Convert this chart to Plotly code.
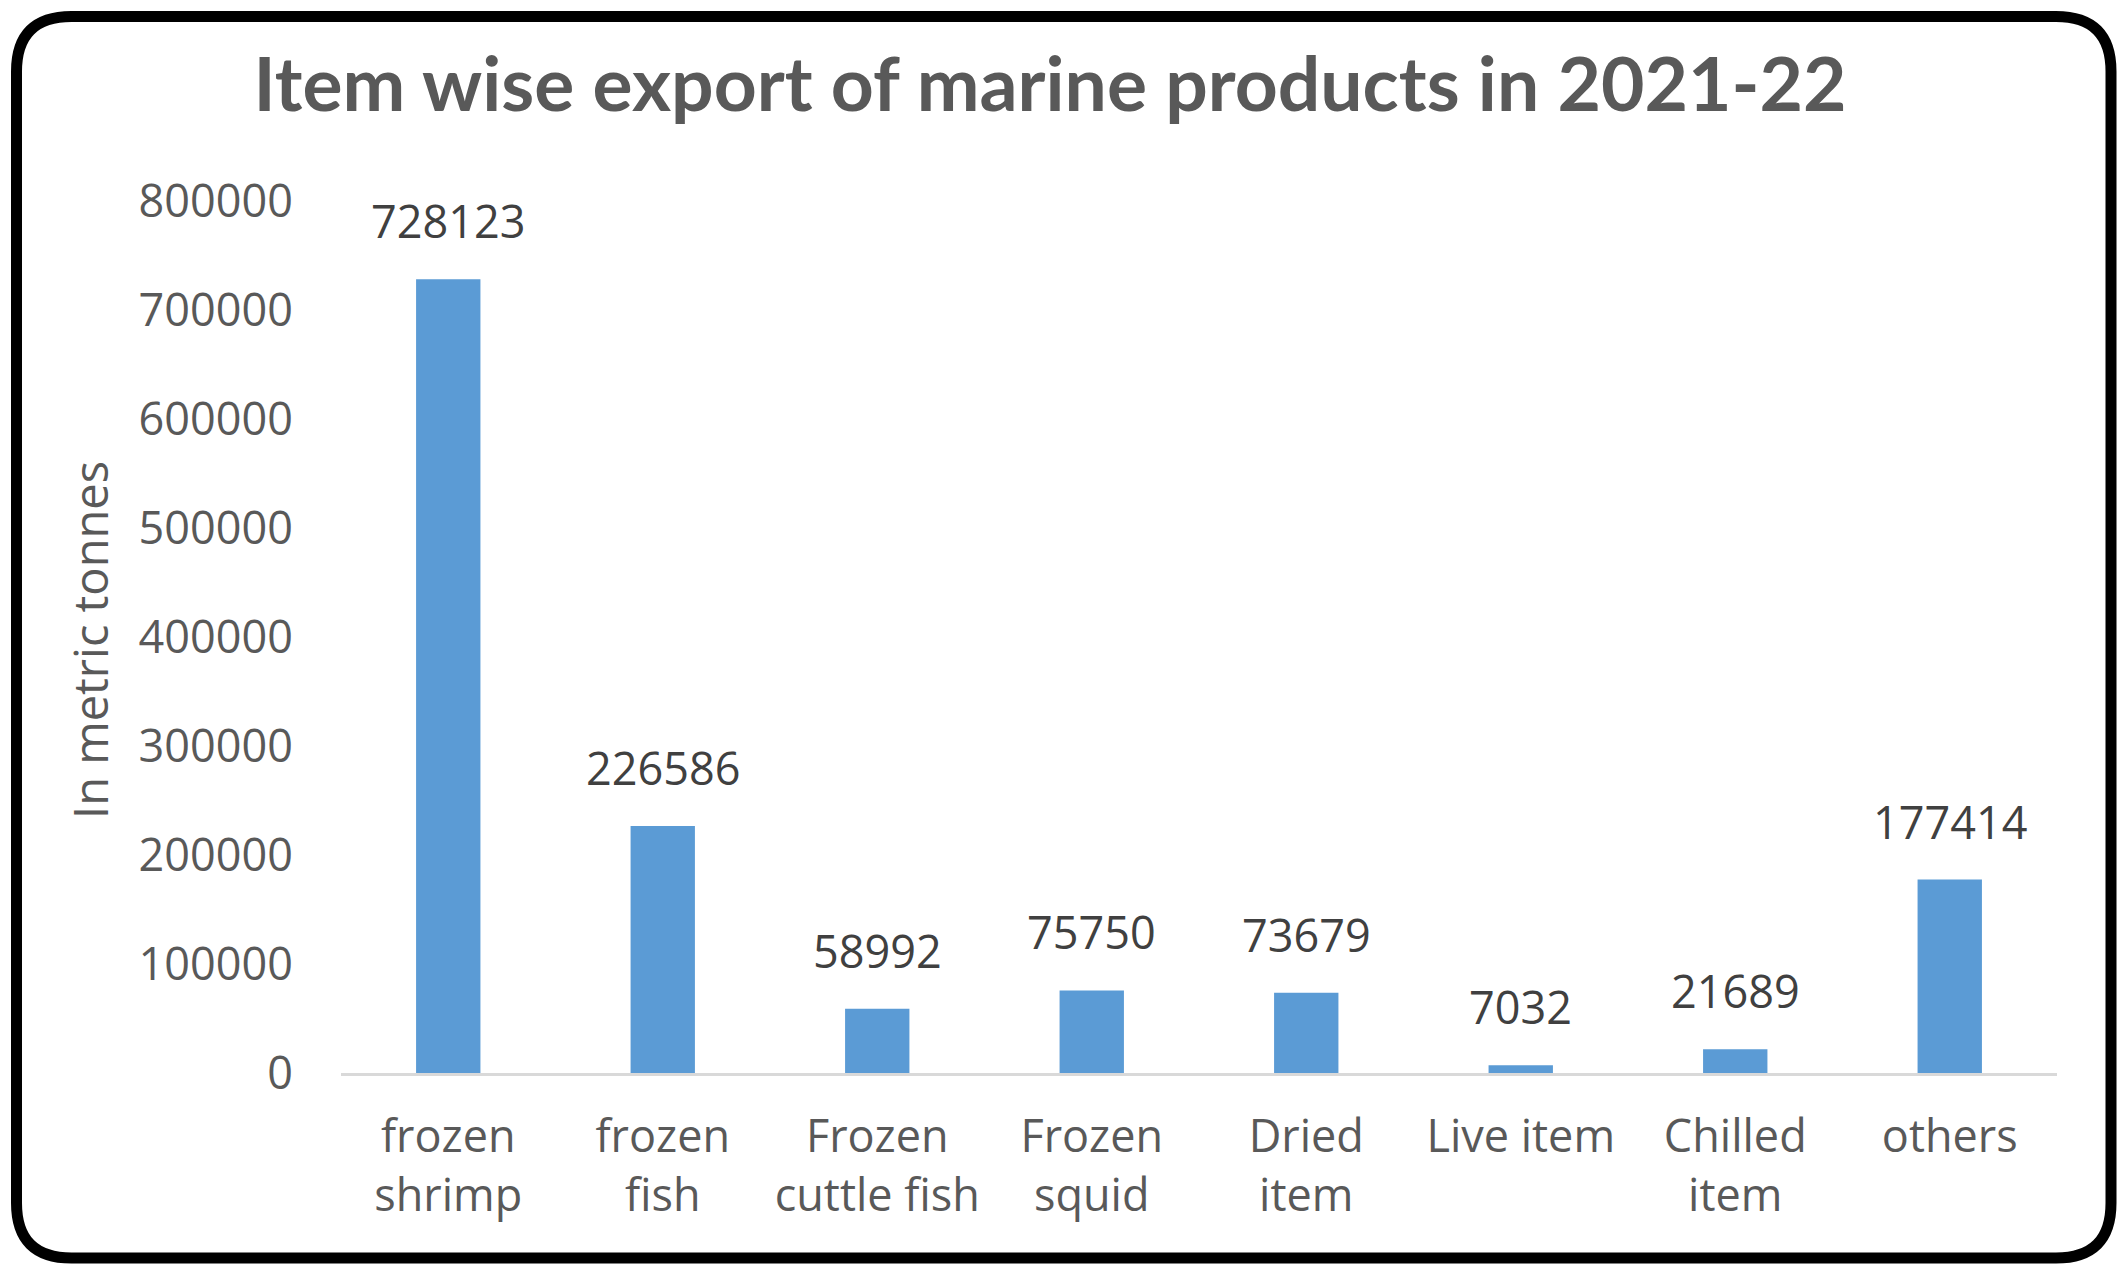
import plotly.graph_objects as go

# Marine product exports, 2021-22 (metric tonnes)
categories = ["frozen shrimp", "frozen fish", "Frozen cuttle fish", "Frozen squid",
              "Dried item", "Live item", "Chilled item", "others"]
tick_labels = ["frozen<br>shrimp", "frozen<br>fish", "Frozen<br>cuttle fish", "Frozen<br>squid",
               "Dried<br>item", "Live item", "Chilled<br>item", "others"]
export_tonnes = [728123, 226586, 58992, 75750, 73679, 7032, 21689, 177414]
y_ticks = [0, 100000, 200000, 300000, 400000, 500000, 600000, 700000, 800000]

W, H = 2117, 1265
ML, MR, MT, MB = 341, 60, 201, 192
PW, PH = W - ML - MR, H - MT - MB

GREY = "#595959"
BLUE = "#5B9BD5"
FONT = "Open Sans, Noto Sans, DejaVu Sans, sans-serif"


def px_to_paper(px, py):
    return (px - ML) / PW, (H - MB - py) / PH


def rounded_frame(x0, y0, x1, y1, r):
    pts = [
        ("M", (x0 + r, y0)), ("L", (x1 - r, y0)), ("Q", (x1, y0), (x1, y0 + r)),
        ("L", (x1, y1 - r)), ("Q", (x1, y1), (x1 - r, y1)),
        ("L", (x0 + r, y1)), ("Q", (x0, y1), (x0, y1 - r)),
        ("L", (x0, y0 + r)), ("Q", (x0, y0), (x0 + r, y0)),
    ]
    parts = []
    for cmd, *coords in pts:
        conv = [px_to_paper(*c) for c in coords]
        parts.append(cmd + " " + " ".join(f"{a:.5f},{b:.5f}" for a, b in conv))
    return " ".join(parts) + " Z"


fig = go.Figure(
    go.Bar(
        x=categories,
        y=export_tonnes,
        marker=dict(color=BLUE, line=dict(width=0)),
        width=0.30,
        cliponaxis=False,
    )
)

# value labels above each bar
for cat, val in zip(categories, export_tonnes):
    fig.add_annotation(
        x=cat, y=val, text=str(val), showarrow=False,
        xanchor="center", yanchor="bottom", yshift=26,
        font=dict(family=FONT, size=45, color="#404040"),
    )

# vertical axis caption
fig.add_annotation(
    xref="paper", yref="paper",
    x=(90 - ML) / PW, y=(H - MB - 640) / PH,
    text="In metric tonnes", textangle=-90, showarrow=False,
    xanchor="center", yanchor="middle",
    font=dict(family=FONT, size=47, color=GREY),
)

# rounded black frame around the whole chart
fig.add_shape(
    type="path", xref="paper", yref="paper",
    path=rounded_frame(16.5, 16.5, 2111, 1258, 55),
    line=dict(color="black", width=11),
    fillcolor="rgba(0,0,0,0)",
    layer="above",
)

fig.update_layout(
    width=W, height=H,
    margin=dict(l=ML, r=MR, t=MT, b=MB, autoexpand=False),
    paper_bgcolor="white", plot_bgcolor="white",
    showlegend=False,
    title=dict(
        text="<b>Item wise export of marine products in 2021-22</b>",
        x=1050 / W, xanchor="center", xref="container",
        y=1 - 85 / H, yanchor="middle", yref="container",
        font=dict(family="Lato, Open Sans, sans-serif", size=75, color=GREY),
    ),
    xaxis=dict(
        type="category",
        tickmode="array", tickvals=categories, ticktext=tick_labels,
        showline=True, linecolor="#D9D9D9", linewidth=3,
        showgrid=False, ticks="", ticklabelstandoff=22,
        tickfont=dict(family=FONT, size=45, color=GREY),
        range=[-0.5, len(categories) - 0.5],
    ),
    yaxis=dict(
        range=[0, 800000],
        tickmode="array", tickvals=y_ticks, ticktext=[str(v) for v in y_ticks],
        showgrid=False, showline=False, zeroline=False, ticks="",
        ticklabelstandoff=47,
        tickfont=dict(family=FONT, size=45, color=GREY),
    ),
    bargap=0.70,
)

fig.write_html("out.html")
